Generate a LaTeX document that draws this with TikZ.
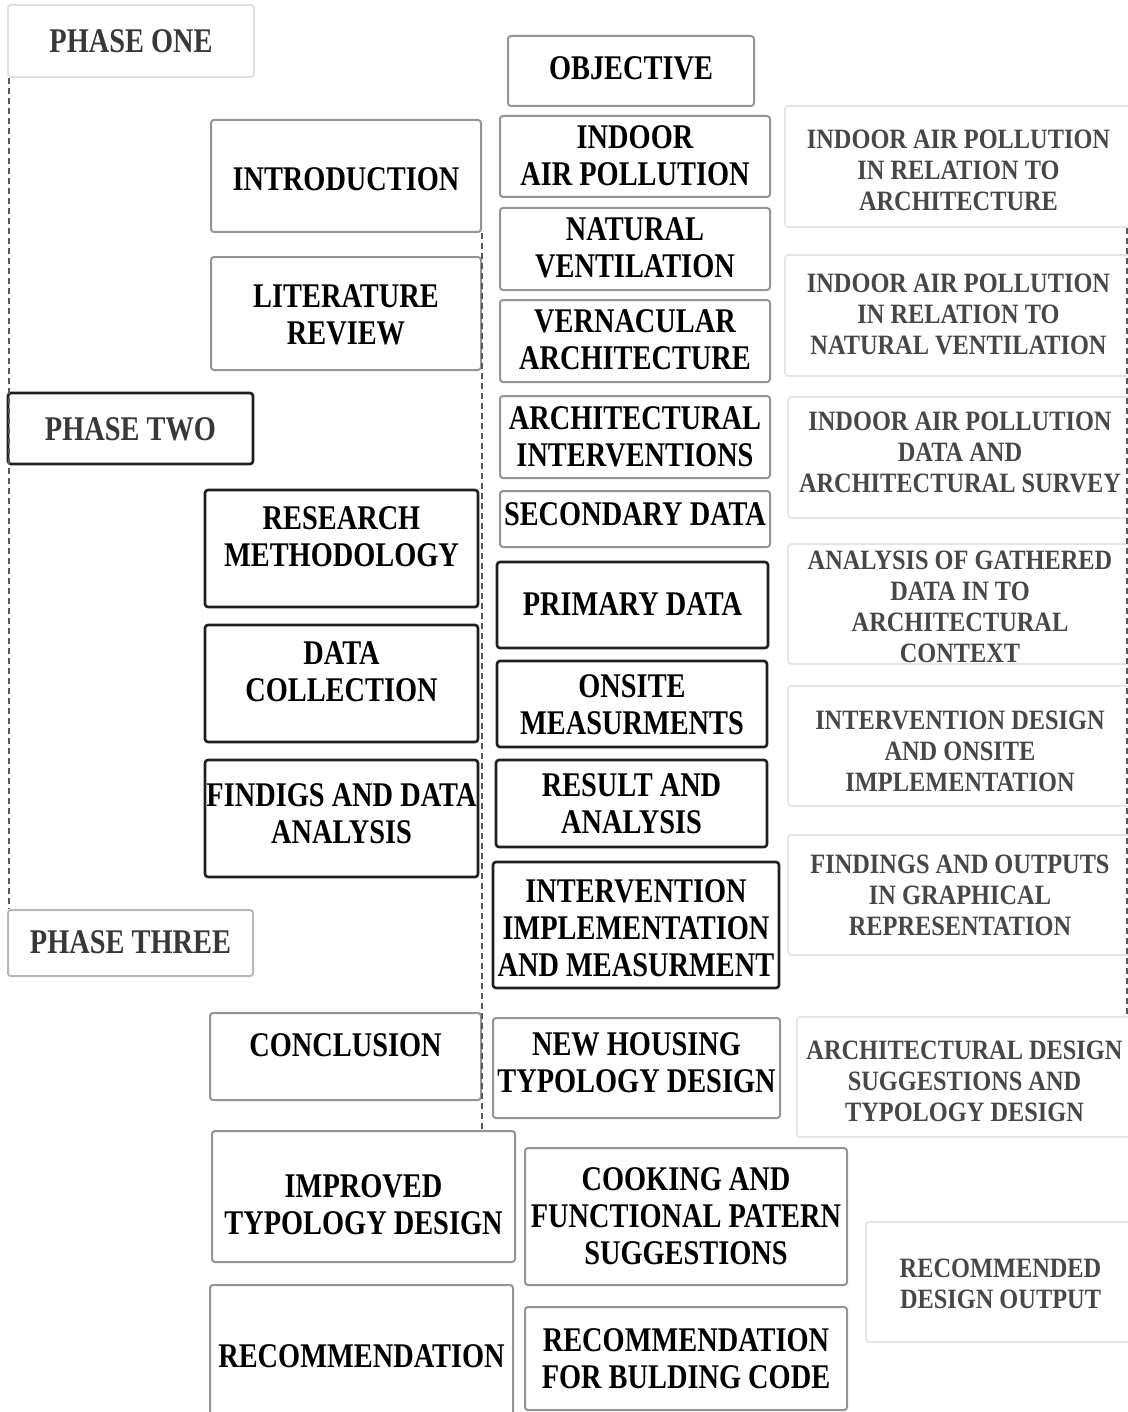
\documentclass[tikz,border=0pt]{standalone}
\usepackage{fontspec}
\setmainfont{Liberation Serif}[FakeStretch=0.82]
\newfontfamily\sidefont{Liberation Serif}[FakeStretch=0.87]
\usetikzlibrary{fit}

\tikzset{
  x=0.5pt, y=-0.5pt,
  frame/.style={rectangle, rounded corners=1.5pt, inner sep=0pt},
  darkbox/.style={frame, draw=black!88, line width=1.3pt},
  greybox/.style={frame, draw=black!42, line width=1pt},
  phaseonebox/.style={frame, draw=black!12, line width=1pt},
  phasethreebox/.style={frame, draw=black!28, line width=1pt},
  palebox/.style={frame, draw=black!10, line width=0.9pt},
  maintext/.style={align=center, inner sep=0pt, text=black,
    font=\bfseries\fontsize{17.3}{18.5}\selectfont},
  phasetext/.style={maintext, text=black!78},
  sidetext/.style={align=center, inner sep=0pt, text=black!72,
    font=\sidefont\bfseries\fontsize{14}{15.5}\selectfont},
  guide/.style={draw=black!65, line width=0.7pt, dash pattern=on 3pt off 2pt},
}

% \bx{frame style}{name}{corner}{corner}{text style}{text centre y}{text}
\newcommand\bx[7]{%
  \node[#1, fit={(#3) (#4)}] (#2) {};
  \coordinate (#2-ty) at (0,#6);
  \node[#5] (#2-t) at (#2.center |- #2-ty) {#7};}

\begin{document}
\begin{tikzpicture}
\useasboundingbox (0,0) rectangle (1128,1412);

% phase headings
\bx{phaseonebox}{p1}{8,5}{254,77}{phasetext}{41}{PHASE ONE}
\bx{darkbox}{p2}{8,393}{253,464}{phasetext}{429}{PHASE TWO}
\bx{phasethreebox}{p3}{8,910}{253,976}{phasetext}{942}{PHASE THREE}

% chapters
\bx{greybox}{intro}{211,120}{481,232}{maintext}{179}{INTRODUCTION}
\bx{greybox}{litrev}{211,257}{481,370}{maintext}{315}{LITERATURE\\REVIEW}
\bx{darkbox}{method}{205,490}{478,607}{maintext}{537}{RESEARCH\\METHODOLOGY}
\bx{darkbox}{collect}{205,625}{478,742}{maintext}{671.5}{DATA\\COLLECTION}
\bx{darkbox}{findings}{205,760}{478,877}{maintext}{813.5}{FINDIGS AND DATA\\ANALYSIS}
\bx{greybox}{concl}{210,1013}{481,1100}{maintext}{1045}{CONCLUSION}
\bx{greybox}{improved}{212,1131}{515,1262}{maintext}{1204.5}{IMPROVED\\TYPOLOGY DESIGN}
\bx{greybox}{recom}{210,1285}{513,1425}{maintext}{1356}{RECOMMENDATION}

% contents
\bx{greybox}{objective}{508,36}{754,106}{maintext}{68}{OBJECTIVE}
\bx{greybox}{iap}{500,116}{770,197}{maintext}{155.5}{INDOOR\\AIR POLLUTION}
\bx{greybox}{natvent}{500,208}{770,290}{maintext}{247.5}{NATURAL\\VENTILATION}
\bx{greybox}{vernac}{500,300}{770,382}{maintext}{340}{VERNACULAR\\ARCHITECTURE}
\bx{greybox}{interv}{500,396}{770,478}{maintext}{436.5}{ARCHITECTURAL\\INTERVENTIONS}
\bx{greybox}{secdata}{500,491}{770,547}{maintext}{514}{SECONDARY DATA}
\bx{darkbox}{primdata}{497,562}{768,648}{maintext}{604}{PRIMARY DATA}
\bx{darkbox}{onsite}{497,661}{767,747}{maintext}{704.5}{ONSITE\\MEASURMENTS}
\bx{darkbox}{result}{496,760}{767,847}{maintext}{804}{RESULT AND\\ANALYSIS}
\bx{darkbox}{implement}{493,862}{779,988}{maintext}{928}{INTERVENTION\\IMPLEMENTATION\\AND MEASURMENT}
\bx{greybox}{newhousing}{493,1018}{780,1118}{maintext}{1062.5}{NEW HOUSING\\TYPOLOGY DESIGN}
\bx{greybox}{cooking}{525,1148}{847,1285}{maintext}{1216}{COOKING AND\\FUNCTIONAL PATERN\\SUGGESTIONS}
\bx{greybox}{code}{525,1307}{847,1410}{maintext}{1358.5}{RECOMMENDATION\\FOR BULDING CODE}

% outputs
\bx{palebox}{r1}{785,106}{1132,227}{sidetext}{170}{INDOOR AIR POLLUTION\\IN RELATION TO\\ARCHITECTURE}
\bx{palebox}{r2}{785,255}{1132,376}{sidetext}{314.5}{INDOOR AIR POLLUTION\\IN RELATION TO\\NATURAL VENTILATION}
\bx{palebox}{r3}{788,397}{1132,518}{sidetext}{452.5}{INDOOR AIR POLLUTION\\DATA AND\\ARCHITECTURAL SURVEY}
\bx{palebox}{r4}{788,544}{1132,664}{sidetext}{606.5}{ANALYSIS OF GATHERED\\DATA IN TO\\ARCHITECTURAL\\CONTEXT}
\bx{palebox}{r5}{788,686}{1132,806}{sidetext}{751}{INTERVENTION DESIGN\\AND ONSITE\\IMPLEMENTATION}
\bx{palebox}{r6}{788,835}{1132,955}{sidetext}{895.5}{FINDINGS AND OUTPUTS\\IN GRAPHICAL\\REPRESENTATION}
\bx{palebox}{r7}{797,1017}{1132,1137}{sidetext}{1081}{ARCHITECTURAL DESIGN\\SUGGESTIONS AND\\TYPOLOGY DESIGN}
\bx{palebox}{r8}{866,1222}{1135,1342}{sidetext}{1284}{RECOMMENDED\\DESIGN OUTPUT}

% dashed guide lines
\draw[guide] ([xshift=1pt]p1.south west) -- ([xshift=1pt]p1.south west |- p3.north);
\draw[guide] (intro.south east) -- (intro.south east |- improved.north);
\draw[guide] ([xshift=-3pt]r1.south east) -- ([xshift=-3pt]r1.south east |- r7.north);
\end{tikzpicture}
\end{document}
